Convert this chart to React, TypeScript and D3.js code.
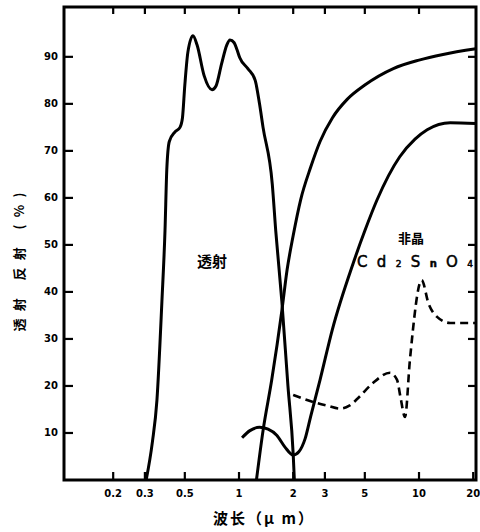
import React from "react";
import { line, curveMonotoneX, scaleLog, scaleLinear } from "d3";

// wavelength ticks (um) and percent ticks
const xTicks = [0.2, 0.3, 0.5, 1, 2, 3, 5, 10, 20];
const yTicks = [10, 20, 30, 40, 50, 60, 70, 80, 90];

// transmission curve
const transWl = [0.305, 0.33, 0.35, 0.373, 0.388, 0.397, 0.41, 0.44, 0.47, 0.485, 0.5, 0.52, 0.555, 0.585, 0.64, 0.708, 0.745, 0.8, 0.855, 0.891, 0.94, 0.975, 1.01, 1.12, 1.23, 1.3, 1.36, 1.53, 1.6, 1.73, 1.87, 2.0, 2.03];
const transPct = [0, 8, 17, 38, 53, 66, 72, 74, 75, 77, 84, 91, 94.5, 92.5, 86, 83, 83.8, 88.5, 92.5, 93.6, 93, 91.5, 89.8, 87.5, 85, 80, 75, 63, 53, 38, 20, 5.5, 0];

// upper reflection curve
const refl1Wl = [1.25, 1.36, 1.52, 1.73, 1.85, 2.0, 2.2, 2.5, 2.82, 3.3, 4.0, 5.0, 7.2, 10, 13.6, 20.7];
const refl1Pct = [0, 10.5, 21.3, 36, 44.7, 52, 59.6, 66.5, 72, 77, 81, 84, 87.5, 89.3, 90.5, 91.7];

// lower reflection curve (amorphous Cd2SnO4)
const refl2Wl = [1.04, 1.15, 1.3, 1.45, 1.62, 1.8, 2.0, 2.15, 2.33, 2.5, 2.82, 3.3, 4.3, 5.0, 5.85, 7.8, 9.5, 11.1, 14.9, 20.7];
const refl2Pct = [9, 10.5, 11.2, 10.8, 9.5, 7, 5.3, 6, 8.8, 13.5, 21.3, 32, 46, 53, 59.6, 68.7, 72.5, 74.5, 76, 75.8];

// dashed curve
const dashWl = [2.0, 2.58, 3.1, 3.64, 4.1, 4.58, 5.5, 6.9, 7.55, 7.9, 8.36, 8.9, 10.35, 11.3, 12.6, 14.9, 20.7];
const dashPct = [18.1, 16.6, 15.8, 15.2, 15.8, 17.4, 20.5, 22.8, 21.3, 17.5, 13.4, 25.5, 42.5, 37.5, 34.7, 33.4, 33.4];

const cjk = "'Noto Sans CJK SC', 'DejaVu Sans', sans-serif";
const num = "'DejaVu Sans', sans-serif";

const left = 64, right = 476, top = 7, bottom = 480;

// log scale for wavelength, linear for percent
const x = scaleLog().domain([0.1066, 20.73]).range([left, right]);
const y = scaleLinear().domain([0, 100.6]).range([bottom, top]);

const mk = (wl: number[], pct: number[]) => wl.map((w, i) => [w, pct[i]] as [number, number]);
const aLine = line<[number, number]>()
  .x((d) => x(d[0]))
  .y((d) => y(d[1]))
  .curve(curveMonotoneX);

const series = [
  { key: "trans", d: mk(transWl, transPct), dash: undefined, w: 3 },
  { key: "refl1", d: mk(refl1Wl, refl1Pct), dash: undefined, w: 3 },
  { key: "refl2", d: mk(refl2Wl, refl2Pct), dash: undefined, w: 3 },
  { key: "dash", d: mk(dashWl, dashPct), dash: "8,5", w: 2.6 },
];

const App = () => {
  return (
    <svg width={480} height={532} style={{ position: "absolute", left: 0, top: 0, background: "#fff" }}>
      {series.map((s) => (
        <path
          key={s.key}
          d={aLine(s.d) || ""}
          fill="none"
          stroke="#000"
          strokeWidth={s.w}
          strokeLinejoin="round"
          strokeDasharray={s.dash}
        />
      ))}
      <rect x={left} y={top} width={right - left} height={bottom - top} fill="none" stroke="#000" strokeWidth={3} />

      {/* x ticks: inward on bottom and top */}
      {xTicks.map((t) => (
        <g key={"x" + t}>
          <line x1={x(t)} x2={x(t)} y1={bottom} y2={bottom - 8} stroke="#000" strokeWidth={2.2} />
          {t < 20 && <line x1={x(t)} x2={x(t)} y1={top} y2={top + 7} stroke="#000" strokeWidth={2.2} />}
          <text x={x(t)} y={497} textAnchor="middle" fontFamily={num} fontWeight="bold" fontSize={10}>
            {String(t)}
          </text>
        </g>
      ))}

      {/* y ticks: inward on left and right */}
      {yTicks.map((t) => (
        <g key={"y" + t}>
          <line x1={left} x2={left + 9} y1={y(t)} y2={y(t)} stroke="#000" strokeWidth={2.2} />
          <line x1={right} x2={right - 8} y1={y(t)} y2={y(t)} stroke="#000" strokeWidth={2.2} />
          <text x={58} y={y(t) + 3.5} textAnchor="end" fontFamily={num} fontWeight="bold" fontSize={10}>
            {String(t)}
          </text>
        </g>
      ))}

      <text x={212} y={267} textAnchor="middle" fontFamily={cjk} fontWeight="bold" fontSize={15}>透射</text>
      <text x={411} y={243} textAnchor="middle" fontFamily={cjk} fontWeight="bold" fontSize={13}>非晶</text>
      <text x={357} y={267} fontFamily={num} fontSize={15} stroke="#000" strokeWidth={0.5} textLength={116} lengthAdjust="spacing">
        Cd<tspan fontSize={9}>2</tspan>S<tspan fontSize={10} fontWeight="bold">n</tspan>O<tspan fontSize={9}>4</tspan>
      </text>
      <text
        transform="translate(24,262) rotate(-90)"
        textAnchor="middle"
        fontFamily={cjk}
        fontWeight="bold"
        fontSize={13}
        fill="#000"
        textLength={139}
        lengthAdjust="spacing"
      >
        透射 反射 (%)
      </text>
      <text x={263} y={524} textAnchor="middle" fontFamily={cjk} fontWeight="bold" fontSize={15} textLength={100} lengthAdjust="spacing">
        波长（μ m）
      </text>
    </svg>
  );
};

export default App;
